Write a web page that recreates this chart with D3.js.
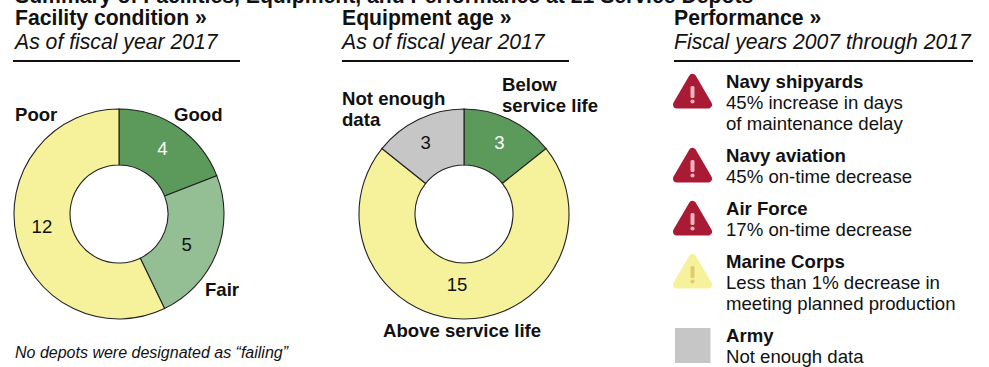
<!DOCTYPE html>
<html>
<head>
<meta charset="utf-8">
<script src="https://cdn.jsdelivr.net/npm/d3@7"></script>
<style>
  html, body { margin: 0; padding: 0; background: #fff; overflow: hidden; }
  svg { display: block; }
  text { font-family: "Liberation Sans", Arial, sans-serif; fill: #111; }
</style>
</head>
<body>
<svg id="chart" width="989" height="367"></svg>
<script>
// Depot counts, clockwise from twelve o'clock
const facilityCategories = ["Good", "Fair", "Poor"];
const facilityValues = [4, 5, 12];
const equipmentCategories = ["Below service life", "Above service life", "Not enough data"];
const equipmentValues = [3, 15, 3];

const title = "Summary of Facilities, Equipment, and Performance at 21 Service Depots";
const footnote = "No depots were designated as \u201cfailing\u201d";

const panelHeads = ["Facility condition \u00bb", "Equipment age \u00bb", "Performance \u00bb"];
const panelSubs = ["As of fiscal year 2017", "As of fiscal year 2017", "Fiscal years 2007 through 2017"];

const performanceNames = ["Navy shipyards", "Navy aviation", "Air Force", "Marine Corps", "Army"];
const performanceNotes = [
  ["45% increase in days", "of maintenance delay"],
  ["45% on-time decrease"],
  ["17% on-time decrease"],
  ["Less than 1% decrease in", "meeting planned production"],
  ["Not enough data"]
];
const performanceStatus = ["alert", "alert", "alert", "caution", "none"];

const GREEN = "#5c9a5c", LIGHT_GREEN = "#94be94", YELLOW = "#f6f29c", GREY = "#c6c6c6", RED = "#a91b35";
const HEAD_SIZE = 21.2, BODY_SIZE = 18.6;

const svg = d3.select("#chart");

svg.append("text").attr("x", 15).attr("y", 3)
  .attr("font-size", HEAD_SIZE).attr("font-weight", 700).text(title);

// Panel headers with their rules
const panelX = [15, 342, 674];
const ruleX = [[13, 240], [342, 569], [674, 973]];
panelHeads.forEach((head, i) => {
  svg.append("text").attr("x", panelX[i]).attr("y", 25)
    .attr("font-size", HEAD_SIZE).attr("font-weight", 700).text(head);
  svg.append("text").attr("x", panelX[i]).attr("y", 49)
    .attr("font-size", HEAD_SIZE).attr("font-style", "italic").text(panelSubs[i]);
  svg.append("line")
    .attr("x1", ruleX[i][0]).attr("x2", ruleX[i][1])
    .attr("y1", 61).attr("y2", 61)
    .attr("stroke", "#111").attr("stroke-width", 2);
});

// Donuts
const pie = d3.pie().sort(null).value(d => d);
const outerR = 105, innerR = 49;
const arc = d3.arc().innerRadius(innerR).outerRadius(outerR);

function donut(cx, cy, values, colors, inkColors, nudges) {
  const g = svg.append("g").attr("transform", `translate(${cx},${cy})`);
  const slices = g.selectAll("g").data(pie(values)).join("g");
  slices.append("path")
    .attr("d", arc)
    .attr("fill", (d, i) => colors[i])
    .attr("stroke", "#222")
    .attr("stroke-width", 1.1);
  slices.append("text")
    .attr("transform", (d, i) => {
      const [x, y] = arc.centroid(d);
      return `translate(${x + nudges[i][0]},${y + nudges[i][1]})`;
    })
    .attr("text-anchor", "middle")
    .attr("dy", "0.36em")
    .attr("font-size", BODY_SIZE)
    .style("fill", (d, i) => inkColors[i])
    .text(d => d.data);
}

donut(119, 214, facilityValues, [GREEN, LIGHT_GREEN, YELLOW], ["#fff", "#111", "#111"],
  [[0, -2], [-4, 2], [-2, -5]]);
donut(464, 214, equipmentValues, [GREEN, YELLOW, GREY], ["#fff", "#111", "#111"],
  [[2, -2], [-7, -7], [-5, -2]]);

// Slice captions, broken over lines where needed
function caption(x, y, lines) {
  const t = svg.append("text").attr("x", x).attr("y", y)
    .attr("font-size", BODY_SIZE).attr("font-weight", 700);
  lines.forEach((line, i) => {
    t.append("tspan").attr("x", x).attr("dy", i ? 21 : 0).text(line);
  });
}
caption(174, 121, [facilityCategories[0]]);
caption(205, 296, [facilityCategories[1]]);
caption(15, 121, [facilityCategories[2]]);
caption(502, 91, ["Below", "service life"]);
caption(383, 337, [equipmentCategories[1]]);
caption(342, 105, ["Not enough", "data"]);

svg.append("text").attr("x", 15).attr("y", 358)
  .attr("font-size", 16).attr("font-style", "italic").text(footnote);

// Performance list: rows stack by their number of text lines
const lineH = 21, rowGap = 32, iconCx = 692.5, textX = 726;
const triangle = d3.line()(
  [[0, -29], [15.5, -2.5], [-15.5, -2.5]]
) + "Z";

let baseline = 88;
performanceNames.forEach((name, i) => {
  const row = svg.append("g").attr("transform", `translate(0,${baseline})`);
  row.append("text").attr("x", textX).attr("y", 0)
    .attr("font-size", BODY_SIZE).attr("font-weight", 700).text(name);
  performanceNotes[i].forEach((note, j) => {
    row.append("text").attr("x", textX).attr("y", (j + 1) * lineH)
      .attr("font-size", BODY_SIZE).text(note);
  });

  const icon = row.append("g").attr("transform", `translate(${iconCx},0)`);
  const status = performanceStatus[i];
  if (status === "none") {
    icon.append("rect").attr("x", -17.5).attr("y", -14).attr("width", 35.5).attr("height", 35)
      .attr("fill", GREY);
  } else {
    const fill = status === "alert" ? RED : YELLOW;
    const mark = status === "alert" ? "#efb4bd" : "#e3c970";
    const g = icon.append("g").attr("transform", "translate(0,19)");
    g.append("path").attr("d", triangle)
      .attr("fill", fill).attr("stroke", fill)
      .attr("stroke-width", 8).attr("stroke-linejoin", "round");
    g.append("rect").attr("x", -2).attr("y", -21).attr("width", 4).attr("height", 12)
      .attr("rx", 1.5).attr("fill", mark);
    g.append("circle").attr("cx", 0).attr("cy", -5.5).attr("r", 2.1).attr("fill", mark);
  }
  baseline += performanceNotes[i].length * lineH + rowGap;
});
</script>
</body>
</html>
